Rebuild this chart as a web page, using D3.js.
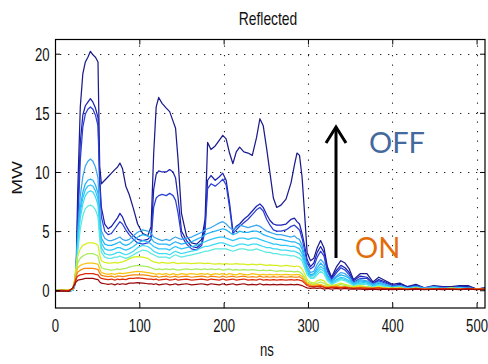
<!DOCTYPE html>
<html>
<head>
<meta charset="utf-8">
<script src="https://cdn.jsdelivr.net/npm/d3@7"></script>
<style>
  html, body { margin: 0; padding: 0; background: #fff; }
  svg { display: block; }
</style>
</head>
<body>
<svg id="chart" width="488" height="364"></svg>
<script>
// Time axis (ns), shared by every trace
const ns = [
  0, 8, 16, 21, 23, 25, 27, 30, 33, 36, 39, 42, 45, 48, 51, 53, 55,
  59, 63, 67, 71, 74, 77, 80, 84, 88, 93, 98, 104, 110,
  114, 117, 120, 123, 127, 132, 136, 140, 143, 146, 150, 156, 162, 168, 174,
  178, 181, 185, 190, 195, 199, 203, 207, 211, 215, 219, 224, 229, 234, 239, 243, 247, 251, 255, 259, 263,
  268, 274, 280, 284, 287, 290, 293, 296, 299,
  303, 307, 311, 315, 319, 323, 328, 334, 339, 344, 349, 354,
  362, 370, 377, 384, 392, 400, 409, 418, 428, 438, 449, 460, 470, 480, 490, 500, 510
];

// Reflected power (MW), one trace per setting, from OFF (top) to ON (bottom)
const trace01 = [
  -0.1, 0, -0.1, 0, 0.4, 1.5, 8.5, 15.5, 18.3, 19.3, 19.7, 20.2, 19.9, 19.7, 19.3, 10.5, 9.0,
  9.3, 9.6, 9.9, 10.2, 10.4, 10.75, 10.3, 8.8, 8.1, 6.9, 5.6, 4.8, 4.6,
  5.4, 11.5, 15.5, 16.3, 15.8, 15.4, 15.1, 14.3, 13.7, 11.0, 6.5, 4.6, 4.0, 3.9, 4.3,
  6.0, 12.5, 11.9, 12.2, 12.7, 13.1, 12.8, 11.6, 10.7, 11.7, 12.1, 11.7, 11.6, 11.4, 12.9, 14.5, 13.9, 12.0, 9.9, 7.8, 7.0,
  7.2, 7.7, 9.1, 10.6, 11.6, 11.4, 9.6, 6.5, 3.2,
  2.5, 2.7, 3.6, 4.2, 3.6, 2.0, 1.1, 2.0, 2.5, 2.3, 1.8, 0.9,
  1.4, 1.4, 0.7, 1.1, 0.8, 0.5, 0.6, 0.3, 0.5, 0.2, 0.4, 0.3, 0.3, 0.4, 0.4, 0.1, 0.2
];
const trace02 = [
  -0.1, 0.05, -0.1, 0, 0.3, 1.2, 6.5, 12.5, 14.8, 15.6, 15.9, 16.2, 15.9, 15.4, 14.6, 9.5, 7.0,
  5.6, 5.2, 5.4, 5.8, 6.1, 6.5, 6.2, 5.5, 5.0, 4.6, 4.3, 4.2, 4.3,
  4.6, 8.5, 9.8, 10.1, 10.0, 10.0, 10.2, 10.0, 9.5, 7.8, 5.0, 4.2, 3.7, 3.6, 4.0,
  5.5, 9.3, 9.7, 9.3, 9.6, 9.9, 9.3, 7.4, 5.0, 5.4, 5.6, 6.0, 6.3, 6.7, 7.1, 7.3, 7.0, 6.4, 5.9, 5.6, 5.5,
  5.5, 5.6, 6.0, 6.1, 5.8, 5.6, 4.8, 3.8, 2.6,
  2.0, 2.3, 3.2, 3.7, 3.2, 1.8, 1.0, 1.7, 2.1, 1.9, 1.5, 0.8,
  1.2, 1.1, 0.6, 0.9, 0.7, 0.4, 0.5, 0.3, 0.4, 0.2, 0.3, 0.3, 0.2, 0.3, 0.3, 0.1, 0.2
];
const trace03 = [
  0, -0.1, 0, 0, 0.3, 1.0, 5.5, 11.0, 13.8, 14.9, 15.3, 15.5, 15.3, 14.8, 13.9, 9.0, 6.2,
  5.0, 4.7, 4.8, 5.2, 5.5, 5.8, 5.6, 5.1, 4.7, 4.3, 4.0, 3.9, 4.0,
  4.3, 7.0, 7.8, 8.0, 8.1, 8.0, 8.2, 8.0, 7.6, 6.5, 4.6, 3.9, 3.5, 3.4, 3.8,
  5.0, 8.6, 9.0, 8.8, 9.1, 9.4, 8.9, 7.0, 4.8, 5.1, 5.4, 5.7, 6.0, 6.4, 6.8, 7.0, 6.7, 6.0, 5.5, 5.1, 5.0,
  5.0, 5.1, 5.4, 5.5, 5.3, 5.1, 4.4, 3.4, 2.3,
  1.8, 2.0, 2.8, 3.3, 2.9, 1.6, 0.9, 1.5, 1.9, 1.7, 1.3, 0.7,
  1.0, 1.0, 0.5, 0.8, 0.6, 0.4, 0.4, 0.2, 0.4, 0.2, 0.3, 0.2, 0.2, 0.3, 0.2, 0.1, 0.1
];
const trace04 = [
  0, 0, -0.1, 0, 0.5, 2.0, 5.0, 8.0, 9.6, 10.5, 10.9, 11.1, 10.9, 10.4, 9.5, 6.5, 5.0,
  4.4, 4.2, 4.2, 4.3, 4.4, 4.5, 4.3, 4.2, 4.3, 4.6, 4.9, 5.1, 5.0,
  4.8, 4.5, 4.4, 4.3, 4.2, 4.3, 4.2, 4.4, 4.5, 4.4, 4.3, 4.4, 4.5, 4.7, 4.9,
  5.1, 5.2, 5.3, 5.5, 5.7, 5.8, 5.6, 5.3, 5.1, 5.3, 5.5, 5.4, 5.3, 5.4, 5.5, 5.4, 5.2, 5.0, 4.9, 4.8, 4.7,
  4.7, 4.6, 4.5, 4.6, 4.4, 4.3, 3.8, 2.9, 2.0,
  1.5, 1.6, 2.2, 2.6, 2.3, 1.3, 0.8, 1.2, 1.5, 1.4, 1.1, 0.6,
  0.9, 0.8, 0.5, 0.7, 0.5, 0.3, 0.4, 0.2, 0.3, 0.2, 0.3, 0.2, 0.2, 0.2, 0.2, 0.1, 0.1
];
const trace05 = [
  0, -0.1, 0, 0, 0.5, 1.8, 4.4, 7.0, 8.3, 9.0, 9.3, 9.4, 9.3, 8.9, 8.2, 5.8, 4.4,
  3.9, 3.8, 3.8, 3.9, 4.0, 4.1, 3.9, 3.8, 3.9, 4.2, 4.5, 4.7, 4.6,
  4.4, 4.1, 4.0, 3.9, 3.9, 3.9, 3.8, 4.0, 4.1, 4.0, 3.9, 4.0, 4.1, 4.3, 4.5,
  4.7, 4.8, 4.9, 5.0, 5.1, 5.2, 5.1, 4.9, 4.7, 4.8, 5.0, 4.9, 4.9, 5.0, 5.0, 4.9, 4.7, 4.6, 4.5, 4.4, 4.3,
  4.3, 4.2, 4.1, 4.1, 4.0, 3.9, 3.5, 2.6, 1.8,
  1.3, 1.4, 1.9, 2.3, 2.0, 1.2, 0.7, 1.1, 1.3, 1.2, 1.0, 0.5,
  0.8, 0.7, 0.4, 0.6, 0.4, 0.3, 0.3, 0.2, 0.3, 0.1, 0.2, 0.2, 0.2, 0.2, 0.2, 0.1, 0.1
];
const trace06 = [
  0, 0, 0, 0, 0.5, 1.7, 4.1, 6.6, 7.8, 8.5, 8.8, 8.9, 8.8, 8.4, 7.7, 5.4, 4.0,
  3.5, 3.4, 3.4, 3.5, 3.6, 3.6, 3.5, 3.4, 3.5, 3.7, 4.0, 4.2, 4.1,
  3.9, 3.7, 3.6, 3.5, 3.5, 3.5, 3.4, 3.6, 3.7, 3.6, 3.5, 3.6, 3.7, 3.8, 4.0,
  4.1, 4.2, 4.3, 4.4, 4.5, 4.5, 4.4, 4.3, 4.2, 4.3, 4.4, 4.4, 4.3, 4.4, 4.4, 4.3, 4.2, 4.1, 4.0, 3.9, 3.9,
  3.8, 3.8, 3.7, 3.7, 3.6, 3.5, 3.1, 2.3, 1.6,
  1.2, 1.3, 1.7, 2.0, 1.8, 1.0, 0.6, 0.9, 1.1, 1.0, 0.8, 0.5,
  0.7, 0.6, 0.4, 0.5, 0.4, 0.2, 0.3, 0.2, 0.2, 0.1, 0.2, 0.1, 0.2, 0.2, 0.1, 0.1, 0.1
];
const trace07 = [
  0, 0, 0, 0, 0.4, 1.5, 3.8, 6.1, 7.3, 8.0, 8.3, 8.4, 8.3, 7.9, 7.2, 5.0, 3.6,
  3.1, 3.0, 3.0, 3.1, 3.2, 3.2, 3.1, 3.0, 3.1, 3.3, 3.6, 3.8, 3.7,
  3.5, 3.3, 3.2, 3.1, 3.1, 3.1, 3.0, 3.2, 3.3, 3.2, 3.1, 3.2, 3.3, 3.4, 3.6,
  3.7, 3.7, 3.8, 3.9, 4.0, 4.0, 3.9, 3.8, 3.7, 3.8, 3.9, 3.9, 3.8, 3.9, 3.9, 3.8, 3.7, 3.6, 3.6, 3.5, 3.5,
  3.4, 3.4, 3.3, 3.3, 3.2, 3.1, 2.8, 2.1, 1.4,
  1.1, 1.1, 1.5, 1.8, 1.6, 0.9, 0.5, 0.8, 1.0, 0.9, 0.7, 0.4,
  0.6, 0.5, 0.3, 0.5, 0.3, 0.2, 0.3, 0.1, 0.2, 0.1, 0.2, 0.1, 0.1, 0.2, 0.1, 0.1, 0.1
];
const trace08 = [
  0, 0, 0, 0, 0.4, 1.3, 3.3, 5.2, 6.3, 6.9, 7.1, 7.2, 7.1, 6.8, 6.2, 4.3, 3.2,
  2.8, 2.7, 2.7, 2.8, 2.8, 2.9, 2.8, 2.7, 2.8, 3.0, 3.2, 3.4, 3.3,
  3.1, 3.0, 2.9, 2.8, 2.8, 2.8, 2.7, 2.9, 3.0, 2.9, 2.8, 2.9, 3.0, 3.1, 3.2,
  3.3, 3.3, 3.4, 3.5, 3.5, 3.5, 3.5, 3.4, 3.3, 3.4, 3.5, 3.5, 3.4, 3.4, 3.5, 3.4, 3.3, 3.2, 3.2, 3.1, 3.1,
  3.0, 3.0, 2.9, 2.9, 2.8, 2.7, 2.5, 1.9, 1.3,
  1.0, 1.0, 1.3, 1.6, 1.4, 0.8, 0.5, 0.7, 0.9, 0.8, 0.6, 0.4,
  0.5, 0.5, 0.3, 0.4, 0.3, 0.2, 0.2, 0.1, 0.2, 0.1, 0.2, 0.1, 0.1, 0.1, 0.1, 0.1, 0.1
];
const trace09 = [
  0, 0, 0.05, 0.1, 0.8, 2.0, 2.9, 3.5, 3.8, 3.9, 4.0, 4.0, 4.0, 3.95, 3.8, 3.0, 2.5,
  2.35, 2.3, 2.3, 2.35, 2.3, 2.35, 2.4, 2.5, 2.65, 2.8, 2.85, 2.8, 2.7,
  2.5, 2.4, 2.35, 2.3, 2.35, 2.3, 2.3, 2.35, 2.3, 2.25, 2.3, 2.3, 2.25, 2.3, 2.3,
  2.25, 2.3, 2.25, 2.2, 2.25, 2.2, 2.25, 2.2, 2.2, 2.25, 2.2, 2.2, 2.15, 2.2, 2.15, 2.2, 2.15, 2.1, 2.15, 2.1, 2.1,
  2.05, 2.1, 2.05, 2.0, 2.05, 2.0, 1.8, 1.4, 0.9,
  0.7, 0.6, 0.8, 0.9, 0.8, 0.5, 0.4, 0.5, 0.6, 0.5, 0.4, 0.3,
  0.4, 0.3, 0.2, 0.3, 0.2, 0.2, 0.2, 0.1, 0.2, 0.1, 0.1, 0.1, 0.2, 0.1, 0.1, 0.1, 0.1
];
const trace10 = [
  0, 0.05, 0, 0.1, 0.7, 1.6, 2.3, 2.7, 2.9, 3.0, 3.1, 3.1, 3.1, 3.0, 2.9, 2.3, 1.9,
  1.8, 1.75, 1.7, 1.75, 1.8, 1.75, 1.8, 1.85, 1.95, 2.05, 2.1, 2.05, 2.0,
  1.9, 1.8, 1.75, 1.8, 1.75, 1.8, 1.75, 1.8, 1.75, 1.7, 1.75, 1.8, 1.75, 1.8, 1.75,
  1.8, 1.75, 1.8, 1.75, 1.8, 1.7, 1.75, 1.8, 1.7, 1.75, 1.7, 1.75, 1.7, 1.75, 1.7, 1.65, 1.7, 1.65, 1.7, 1.65, 1.6,
  1.65, 1.6, 1.6, 1.55, 1.6, 1.55, 1.4, 1.1, 0.7,
  0.6, 0.5, 0.6, 0.7, 0.6, 0.4, 0.3, 0.4, 0.5, 0.4, 0.3, 0.2,
  0.3, 0.3, 0.2, 0.2, 0.2, 0.1, 0.2, 0.1, 0.1, 0.1, 0.1, 0.1, 0.1, 0.1, 0.1, 0.1, 0.1
];
const trace11 = [
  0, 0, 0, 0.1, 0.7, 1.4, 1.9, 2.1, 2.2, 2.25, 2.3, 2.3, 2.3, 2.25, 2.2, 1.8, 1.5,
  1.4, 1.35, 1.4, 1.35, 1.4, 1.45, 1.4, 1.45, 1.5, 1.55, 1.6, 1.55, 1.5,
  1.45, 1.4, 1.35, 1.4, 1.35, 1.4, 1.3, 1.4, 1.35, 1.3, 1.4, 1.35, 1.4, 1.35, 1.4,
  1.35, 1.4, 1.3, 1.4, 1.35, 1.4, 1.3, 1.4, 1.35, 1.3, 1.4, 1.35, 1.3, 1.4, 1.35, 1.3, 1.35, 1.3, 1.35, 1.3, 1.35,
  1.3, 1.35, 1.3, 1.3, 1.35, 1.3, 1.2, 0.9, 0.6,
  0.5, 0.4, 0.5, 0.5, 0.4, 0.3, 0.3, 0.4, 0.3, 0.3, 0.2, 0.2,
  0.3, 0.2, 0.2, 0.2, 0.2, 0.1, 0.2, 0.1, 0.1, 0.1, 0.1, 0.1, 0.1, 0.1, 0.1, 0.1, 0.1
];
const trace12 = [
  0, 0, 0, 0.1, 0.6, 1.2, 1.55, 1.7, 1.8, 1.85, 1.85, 1.85, 1.85, 1.8, 1.75, 1.45, 1.25,
  1.2, 1.15, 1.2, 1.1, 1.2, 1.2, 1.15, 1.2, 1.25, 1.3, 1.3, 1.3, 1.25,
  1.2, 1.15, 1.2, 1.1, 1.15, 1.2, 1.1, 1.15, 1.2, 1.1, 1.15, 1.2, 1.1, 1.15, 1.2,
  1.15, 1.1, 1.2, 1.15, 1.1, 1.2, 1.1, 1.15, 1.2, 1.1, 1.15, 1.2, 1.1, 1.15, 1.1, 1.2, 1.1, 1.15, 1.1, 1.15, 1.1,
  1.15, 1.1, 1.15, 1.1, 1.1, 1.15, 1.0, 0.75, 0.5,
  0.4, 0.35, 0.4, 0.4, 0.3, 0.25, 0.3, 0.3, 0.25, 0.3, 0.2, 0.2,
  0.2, 0.2, 0.15, 0.2, 0.15, 0.1, 0.15, 0.1, 0.1, 0.1, 0.1, 0.1, 0.1, 0.1, 0.1, 0.1, 0.1
];
const trace13 = [
  -0.05, 0, -0.05, 0.15, 0.5, 0.95, 1.2, 1.3, 1.35, 1.4, 1.4, 1.4, 1.4, 1.35, 1.3, 1.1, 1.0,
  0.95, 0.9, 0.95, 0.85, 0.95, 0.9, 0.95, 0.9, 1.0, 1.0, 1.05, 1.0, 0.95,
  0.95, 0.9, 0.95, 0.85, 0.9, 0.95, 0.85, 0.9, 0.95, 0.85, 0.9, 0.95, 0.85, 0.9, 0.95,
  0.9, 0.85, 0.95, 0.9, 0.85, 0.95, 0.85, 0.9, 0.95, 0.85, 0.9, 0.95, 0.85, 0.9, 0.85, 0.95, 0.85, 0.9, 0.85, 0.9, 0.85,
  0.9, 0.85, 0.9, 0.85, 0.9, 0.85, 0.8, 0.6, 0.4,
  0.3, 0.3, 0.3, 0.35, 0.25, 0.2, 0.25, 0.25, 0.2, 0.25, 0.2, 0.15,
  0.2, 0.15, 0.15, 0.2, 0.1, 0.15, 0.1, 0.1, 0.15, 0.1, 0.1, 0.15, 0.1, 0.1, 0.15, 0.1, 0.1
];
const trace14 = [
  -0.1, -0.05, -0.1, 0.2, 0.45, 0.7, 0.85, 0.9, 0.95, 1.0, 1.0, 1.0, 1.0, 0.95, 0.9, 0.7, 0.6,
  0.55, 0.5, 0.55, 0.45, 0.55, 0.5, 0.55, 0.5, 0.6, 0.6, 0.65, 0.6, 0.55,
  0.55, 0.5, 0.55, 0.45, 0.5, 0.55, 0.45, 0.5, 0.55, 0.45, 0.5, 0.55, 0.45, 0.5, 0.55,
  0.5, 0.45, 0.55, 0.5, 0.45, 0.55, 0.45, 0.5, 0.55, 0.45, 0.5, 0.55, 0.45, 0.5, 0.45, 0.55, 0.45, 0.5, 0.45, 0.5, 0.45,
  0.5, 0.45, 0.5, 0.45, 0.5, 0.45, 0.4, 0.3, 0.2,
  0.15, 0.2, 0.15, 0.2, 0.1, 0.15, 0.1, 0.15, 0.1, 0.15, 0.1, 0.1,
  0.1, 0.05, 0.1, 0.05, 0.1, 0.05, 0.1, 0.05, 0.1, 0.05, 0.1, 0.05, 0.1, 0.05, 0.1, 0.05, 0.1
];

const traces = [trace01, trace02, trace03, trace04, trace05, trace06, trace07,
                trace08, trace09, trace10, trace11, trace12, trace13, trace14];

// jet-like palette, dark blue to dark red
const traceColors = ['#1b1b8c', '#1c22b4', '#2a3fd6', '#3aa6ee', '#22b4f6', '#2cc6f8', '#3edaf4',
                     '#5ce8e0', '#d6ee1e', '#a6ec5a', '#f6c412', '#f5860e', '#dc2a06', '#9a0a0a'];

const xTicks = [0, 100, 200, 300, 400, 500];
const yTicks = [0, 5, 10, 15, 20];
const xDomain = [0, 510];
const yDomain = [-1.5, 21.2];

const titleText = 'Reflected';
const xLabel = 'ns';
const yLabel = 'MW';

// ---- layout ----
const plot = { left: 55, right: 485, top: 39.5, bottom: 308 };
const font = "'Liberation Sans', Arial, Helvetica, sans-serif";
const squeeze = 0.73;   // narrow glyphs of the axis text

const svg = d3.select('#chart');
svg.append('rect').attr('width', 488).attr('height', 364).attr('fill', '#fff');

const x = d3.scaleLinear().domain(xDomain).range([plot.left, plot.right]);
const y = d3.scaleLinear().domain(yDomain).range([plot.bottom, plot.top]);

// dotted grid
const grid = svg.append('g').attr('stroke', '#222').attr('stroke-width', 1.1);
grid.selectAll('line.gy').data(yTicks).join('line')
  .attr('x1', plot.left).attr('x2', plot.right)
  .attr('y1', d => Math.round(y(d)) + 0.5).attr('y2', d => Math.round(y(d)) + 0.5)
  .attr('stroke-dasharray', '1.3,6.7').attr('stroke-dashoffset', -5);
grid.selectAll('line.gx').data(xTicks.filter(d => d > 0)).join('line')
  .attr('x1', d => Math.round(x(d)) + 0.5).attr('x2', d => Math.round(x(d)) + 0.5)
  .attr('y1', plot.top).attr('y2', plot.bottom)
  .attr('stroke-dasharray', '1.3,8.2').attr('stroke-dashoffset', -6);

// traces
svg.append('clipPath').attr('id', 'plotClip').append('rect')
  .attr('x', plot.left).attr('y', plot.top)
  .attr('width', plot.right - plot.left).attr('height', plot.bottom - plot.top);

const line = d3.line()
  .x((d, i) => x(ns[i]))
  .y(d => y(d));

svg.append('g').attr('clip-path', 'url(#plotClip)')
  .selectAll('path').data(traces).join('path')
  .attr('d', d => line(d.slice(0, ns.length)))
  .attr('fill', 'none')
  .attr('stroke', (d, i) => traceColors[i])
  .attr('stroke-width', 1.25)
  .attr('stroke-linejoin', 'round');

// axes with inward ticks on all four sides
function styleAxis(g) {
  g.select('.domain').remove();
  g.selectAll('.tick line').attr('stroke', '#000');
}
svg.append('g').attr('transform', `translate(0,${plot.bottom})`)
  .call(d3.axisBottom(x).tickValues(xTicks).tickSizeInner(-5).tickSizeOuter(0))
  .call(styleAxis)
  .call(g => g.selectAll('.tick text')
    .attr('y', 24).attr('dy', null)
    .attr('transform', `scale(${squeeze},1)`)
    .attr('font-family', font).attr('font-size', 18).attr('fill', '#111'));
svg.append('g').attr('transform', `translate(0,${plot.top})`)
  .call(d3.axisTop(x).tickValues(xTicks).tickSizeInner(-5).tickSizeOuter(0).tickFormat(''))
  .call(styleAxis);
svg.append('g').attr('transform', `translate(${plot.left},0)`)
  .call(d3.axisLeft(y).tickValues(yTicks).tickSizeInner(-5).tickSizeOuter(0))
  .call(styleAxis)
  .call(g => g.selectAll('.tick text')
    .attr('x', -5.5 / squeeze).attr('dy', '0.36em')
    .attr('transform', `scale(${squeeze},1)`)
    .attr('font-family', font).attr('font-size', 18).attr('fill', '#111'));
svg.append('g').attr('transform', `translate(${plot.right},0)`)
  .call(d3.axisRight(y).tickValues(yTicks).tickSizeInner(-5).tickSizeOuter(0).tickFormat(''))
  .call(styleAxis);

// frame
svg.append('rect')
  .attr('x', plot.left + 0.5).attr('y', plot.top)
  .attr('width', plot.right - plot.left - 0.5).attr('height', plot.bottom - plot.top)
  .attr('fill', 'none').attr('stroke', '#000').attr('stroke-width', 1.2);

// title and axis labels
svg.append('text')
  .attr('transform', `translate(268,25) scale(${squeeze},1)`)
  .attr('text-anchor', 'middle')
  .attr('font-family', font).attr('font-size', 19).attr('fill', '#111')
  .text(titleText);
svg.append('text')
  .attr('transform', `translate(267,356) scale(${squeeze},1)`)
  .attr('text-anchor', 'middle')
  .attr('font-family', font).attr('font-size', 18).attr('fill', '#111')
  .text(xLabel);
svg.append('text')
  .attr('transform', `translate(22,178) rotate(-90) scale(1,${squeeze})`)
  .attr('text-anchor', 'middle')
  .attr('font-family', font).attr('font-size', 19).attr('fill', '#111')
  .text(yLabel);

// OFF / ON annotation with arrow
const arrow = svg.append('g').attr('stroke', '#000').attr('stroke-width', 3)
  .attr('fill', 'none').attr('stroke-linecap', 'butt');
arrow.append('line').attr('x1', 336).attr('y1', 258).attr('x2', 336).attr('y2', 127);
arrow.append('path').attr('d', 'M326,143 L336,127 L346,143').attr('stroke-linejoin', 'miter');

svg.append('text')
  .attr('x', 369).attr('y', 153)
  .attr('font-family', "Lato, 'Open Sans', sans-serif").attr('font-size', 29)
  .attr('fill', '#44699d')
  .text('OFF');
svg.append('text')
  .attr('x', 355).attr('y', 258)
  .attr('font-family', "Lato, 'Open Sans', sans-serif").attr('font-size', 29)
  .attr('fill', '#e36c0a')
  .text('ON');
</script>
</body>
</html>
